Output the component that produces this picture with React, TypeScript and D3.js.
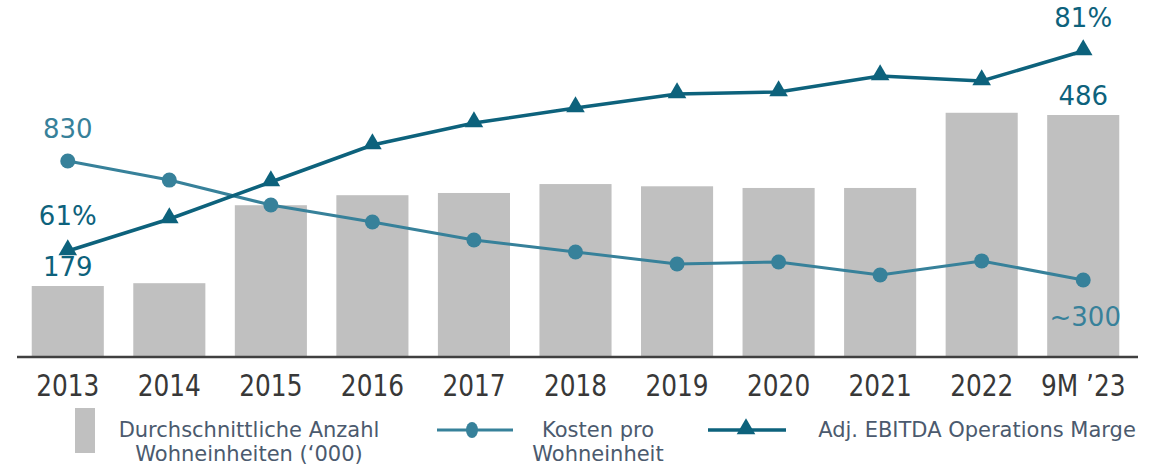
import React from 'react';
import * as d3 from 'd3';

// chart data
const years = ['2013', '2014', '2015', '2016', '2017', '2018', '2019', '2020', '2021', '2022', "9M \u201923"];
const units = [179, 184, 324, 342, 346, 362, 358, 355, 355, 490, 486];
const costs = [830, 745, 634, 558, 478, 425, 371, 380, 322, 385, 300];
const margin = [61, 64.2, 67.9, 71.6, 73.8, 75.3, 76.7, 76.9, 78.5, 78, 81];

const W = 1170;
const H = 469;
const BAR = '#c0c0c0';
const COST = '#37819a';
const MARG = '#0d627c';
const TXT = '#4b5a6e';
const COND = "'DejaVu Sans Condensed', 'DejaVu Sans', sans-serif";
const SANS = "'DejaVu Sans', Verdana, sans-serif";

const App: React.FC = () => {
  const x = d3.scaleBand().domain(years).range([17, 1134]).paddingInner(0.29).paddingOuter(0.145);
  const base = 356;
  const yBar = d3.scaleLinear().domain([53.3, 486]).range([base, 115]);
  const yCost = d3.scaleLinear().domain([300, 830]).range([280, 161]);
  const yMarg = d3.scaleLinear().domain([61, 81]).range([251, 51]);
  const cx = (d: string) => (x(d) as number) + x.bandwidth() / 2;

  const costLine = d3.line<number>().x((_, i) => cx(years[i])).y(d => yCost(d));
  const margLine = d3.line<number>().x((_, i) => cx(years[i])).y(d => yMarg(d));
  const tri = d3.symbol().type(d3.symbolTriangle).size(150);

  const first = years[0];
  const last = years[years.length - 1];

  return (
    <svg width={W} height={H} style={{ position: 'absolute', left: 0, top: 0 }}>
      {years.map((y, i) => (
        <rect key={y} x={x(y)} y={yBar(units[i])} width={x.bandwidth()} height={base - yBar(units[i])} fill={BAR} />
      ))}
      <line x1={17} x2={1138} y1={base + 1} y2={base + 1} stroke="#404040" strokeWidth={2.5} />

      <path d={costLine(costs) || ''} fill="none" stroke={COST} strokeWidth={3} />
      {costs.map((v, i) => (
        <circle key={i} cx={cx(years[i])} cy={yCost(v)} r={7.5} fill={COST} />
      ))}
      <path d={margLine(margin) || ''} fill="none" stroke={MARG} strokeWidth={3.5} />
      {margin.map((v, i) => (
        <path key={i} d={tri() || ''} transform={`translate(${cx(years[i])},${yMarg(v) - 1})`} fill={MARG} />
      ))}

      {/* data labels */}
      <g fontFamily={SANS} fontSize={26} textAnchor="middle">
        <text x={cx(first)} y={yCost(costs[0]) - 23} fill={COST}>{costs[0]}</text>
        <text x={cx(first)} y={yMarg(margin[0]) - 26} fill={MARG}>{margin[0]}%</text>
        <text x={cx(first)} y={yBar(units[0]) - 10} fill={MARG}>{units[0]}</text>
        <text x={cx(last)} y={yMarg(margin[10]) - 24} fill={MARG}>{margin[10]}%</text>
        <text x={cx(last)} y={yBar(units[10]) - 10} fill={MARG}>{units[10]}</text>
        <text x={cx(last) + 2} y={yCost(costs[10]) + 46} fill={COST}>~{costs[10]}</text>
      </g>

      {/* x axis labels */}
      <g fontFamily={COND} fontSize={31} textAnchor="middle" fill="#383838">
        {years.map(y => (
          <text key={y} transform={`translate(${cx(y)},396) scale(0.89,1)`}>{y}</text>
        ))}
      </g>

      {/* legend */}
      <g fontFamily={SANS} fontSize={21} fill={TXT} textAnchor="middle">
        <rect x={75} y={408} width={20} height={45} fill={BAR} />
        <text x={249} y={437}>Durchschnittliche Anzahl</text>
        <text x={249} y={461}>Wohneinheiten (‘000)</text>

        <line x1={437} x2={513} y1={430} y2={430} stroke={COST} strokeWidth={3} />
        <ellipse cx={472} cy={430} rx={6} ry={8} fill={COST} />
        <text x={598} y={437}>Kosten pro</text>
        <text x={598} y={461}>Wohneinheit</text>

        <line x1={708} x2={786} y1={430} y2={430} stroke={MARG} strokeWidth={3.5} />
        <path d={tri() || ''} transform="translate(746,429)" fill={MARG} />
        <text x={977} y={437}>Adj. EBITDA Operations Marge</text>
      </g>
    </svg>
  );
};

export default App;
